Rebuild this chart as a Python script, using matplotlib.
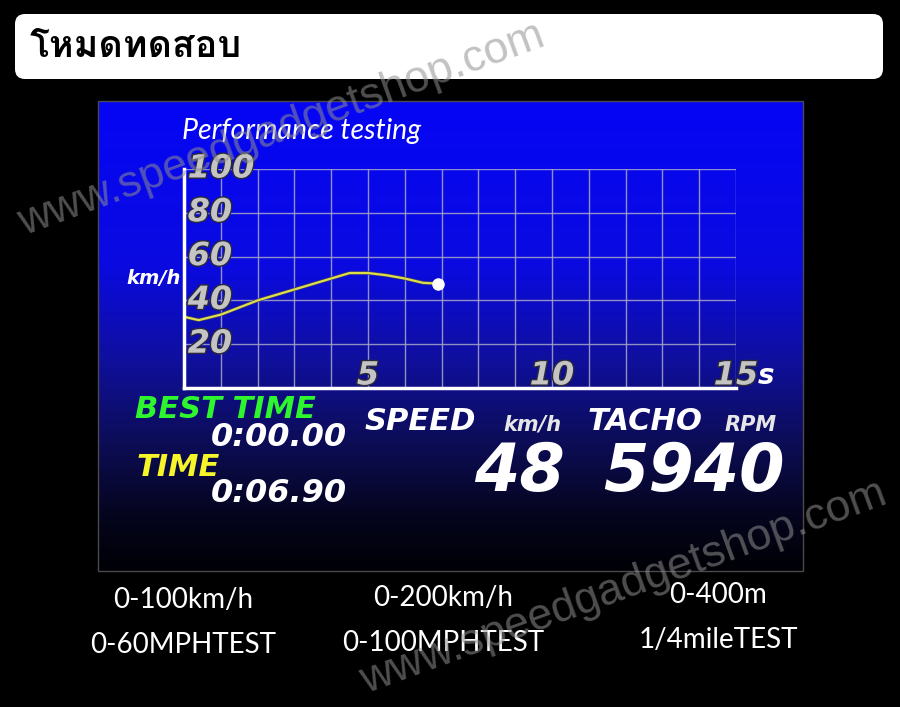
import numpy as np
import matplotlib
matplotlib.use('Agg')
import matplotlib.pyplot as plt
from matplotlib import font_manager, patheffects
from matplotlib.ft2font import FT2Font
from matplotlib.patches import FancyBboxPatch, Rectangle
from matplotlib.colors import LinearSegmentedColormap

# data
time_s = [0, 0.4, 1, 2, 3, 4, 4.5, 5, 5.5, 6, 6.5, 6.9]
speed_kmh = [32.5, 31, 33.5, 40, 45, 50, 52.5, 52.5, 51.5, 50, 48, 47.7]
y_ticks = [20, 40, 60, 80, 100]
x_ticks = [5, 10, 15]
x_tick_labels = ['5', '10', '15']
title_th = 'โหมดทดสอบ'
best_time = '0:00.00'
run_time = '0:06.90'
speed_now = '48'
tacho_now = '5940'
modes = [['0-100km/h', '0-200km/h', '0-400m'],
         ['0-60MPHTEST', '0-100MPHTEST', '1/4mileTEST']]
watermark = 'www.speedgadgetshop.com'


def find_font(ch, default='DejaVu Sans'):
    for f in font_manager.fontManager.ttflist:
        try:
            if FT2Font(f.fname).get_char_index(ord(ch)):
                return f.name
        except Exception:
            pass
    return default


thai_font = find_font('ห')

W, H = 900, 707
fig = plt.figure(figsize=(W / 100, H / 100), dpi=100, facecolor='black')

# background layer in pixel coordinates
bg = fig.add_axes([0, 0, 1, 1])
bg.set_xlim(0, W)
bg.set_ylim(H, 0)
bg.axis('off')
bg.add_patch(Rectangle((0, 0), W, H, color='black', zorder=0))
bg.add_patch(FancyBboxPatch((15, 14), 868, 65, boxstyle='round,pad=0,rounding_size=10',
                            fc='white', ec='none', zorder=1))
bg.text(30, 47, title_th, fontsize=27, fontweight='bold', family=[thai_font, 'DejaVu Sans'],
        color='black', ha='left', va='center', zorder=2)

# blue gradient panel
cmap = LinearSegmentedColormap.from_list('panel', [
    (0.0, (0.02, 0.02, 0.96)),
    (0.35, (0.04, 0.04, 0.88)),
    (0.55, (0.06, 0.06, 0.62)),
    (0.72, (0.05, 0.05, 0.35)),
    (0.88, (0.02, 0.02, 0.12)),
    (1.0, (0.0, 0.0, 0.02))])
grad = np.linspace(0, 1, 256).reshape(-1, 1)
bg.imshow(grad, cmap=cmap, aspect='auto', extent=[98, 803, 571, 101], zorder=1)
bg.add_patch(Rectangle((98, 101), 705, 470, fill=False, ec='#4a4a4a', lw=1, zorder=2))

disp = dict(family='DejaVu Sans', fontweight='bold', style='oblique')
bg.text(182, 131, 'Performance testing', fontsize=20.5, style='italic', family=['Lato', 'DejaVu Sans'],
        color='white', ha='left', va='center', zorder=3)
bg.text(181, 278, 'km/h', fontsize=14, color='white', ha='right', va='center', zorder=3, **disp)
bg.text(135, 409, 'BEST TIME', fontsize=22, color='#2ef52e', ha='left', va='center', zorder=3, **disp)
bg.text(347, 437, best_time, fontsize=23, color='white', ha='right', va='center', zorder=3, **disp)
bg.text(137, 467, 'TIME', fontsize=22, color='#f5f52a', ha='left', va='center', zorder=3, **disp)
bg.text(347, 494, run_time, fontsize=23, color='white', ha='right', va='center', zorder=3, **disp)
bg.text(365, 422, 'SPEED', fontsize=22, color='white', ha='left', va='center', zorder=3, **disp)
bg.text(503, 425, 'km/h', fontsize=15, color='#e6e6e6', ha='left', va='center', zorder=3, **disp)
bg.text(588, 422, 'TACHO', fontsize=22, color='white', ha='left', va='center', zorder=3, **disp)
bg.text(725, 425, 'RPM', fontsize=15, color='#e6e6e6', ha='left', va='center', zorder=3, **disp)
bg.text(565, 473, speed_now, fontsize=47, color='white', ha='right', va='center', zorder=3, **disp)
bg.text(785, 473, tacho_now, fontsize=47, color='white', ha='right', va='center', zorder=3, **disp)

# bottom mode labels
for row, ys in zip(modes, [600, 645]):
    for lab, xc, dy in zip(row, [183, 443, 718], [0, -2, -5]):
        bg.text(xc, ys + dy, lab, fontsize=20, family=['Lato', 'DejaVu Sans'], color='white',
                ha='center', va='center', zorder=3)

# chart axes
ax = fig.add_axes([184 / W, (H - 388) / H, (736 - 184) / W, (388 - 169) / H])
ax.patch.set_alpha(0)
ax.set_xlim(0, 15)
ax.set_ylim(0, 100)
ax.set_xticks(np.arange(0, 16, 1))
ax.set_yticks(np.arange(0, 101, 20))
ax.tick_params(length=0, labelbottom=False, labelleft=False)
ax.grid(True, color='#a8a8c8', lw=1, alpha=0.85)
for s in ['top', 'right']:
    ax.spines[s].set_visible(False)
for s in ['left', 'bottom']:
    ax.spines[s].set_color('white')
    ax.spines[s].set_linewidth(2.5)

outline = [patheffects.withStroke(linewidth=2, foreground='#2a2a3a')]
for v in y_ticks:
    ax.text(0.1, v, str(v), fontsize=23, color='#c4c4c4', ha='left', va='center',
            path_effects=outline, **disp)
for v, lab in zip(x_ticks, x_tick_labels):
    ax.text(v, 5.5, lab, fontsize=23, color='#c4c4c4', ha='center', va='center',
            path_effects=outline, clip_on=False, **disp)
ax.text(15.6, 5.5, 's', fontsize=20, color='white', ha='left', va='center', clip_on=False, **disp)

ax.plot(time_s, speed_kmh, color='#dede4a', lw=1.6,
        path_effects=[patheffects.withStroke(linewidth=2.6, foreground='#40406a')])
ax.plot(time_s[-1], speed_kmh[-1], 'o', color='white', ms=8, clip_on=False)

# watermark
for xc, yc in [(282, 130), (624, 588)]:
    fig.text(xc / W, 1 - yc / H, watermark, fontsize=32, family=['Liberation Sans', 'DejaVu Sans'],
             color='#909090', alpha=0.55, rotation=20, ha='center', va='center', zorder=10)

fig.savefig('out.png', dpi=100, facecolor='black')
